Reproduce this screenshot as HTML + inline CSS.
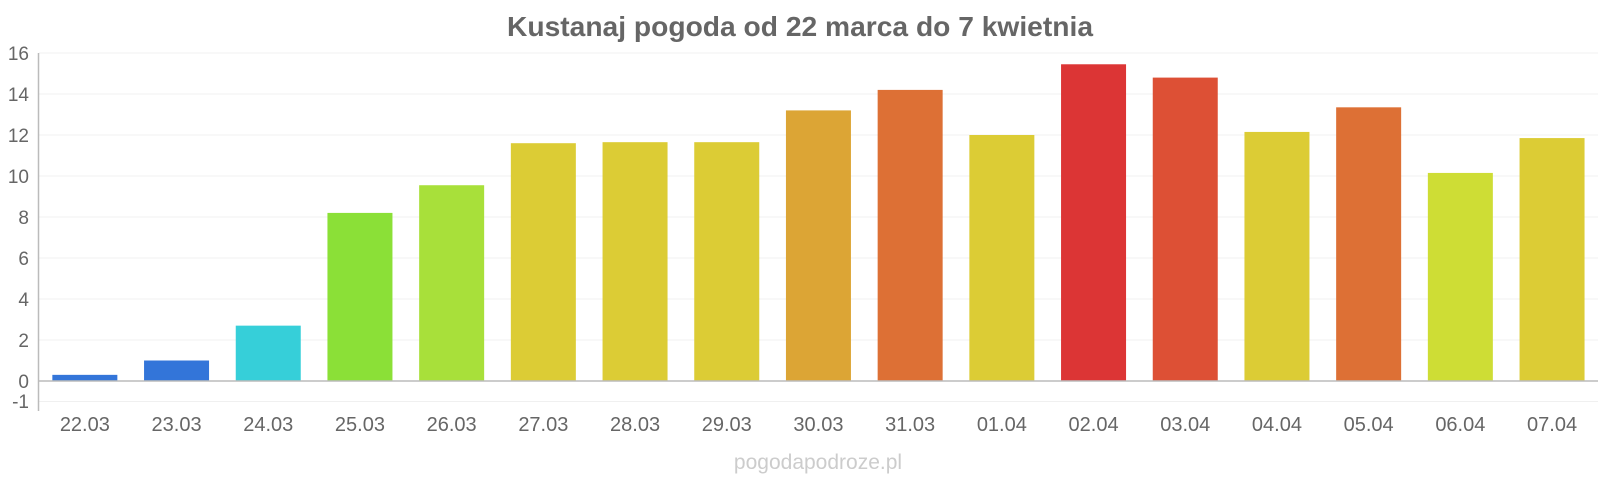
<!DOCTYPE html>
<html><head><meta charset="utf-8"><style>html,body{margin:0;padding:0;background:#fff;}svg{display:block}</style></head>
<body>
<svg width="1600" height="480" xmlns="http://www.w3.org/2000/svg" font-family="Liberation Sans, sans-serif">
<text x="800" y="36" text-anchor="middle" font-size="28" font-weight="bold" fill="#666" textLength="586" lengthAdjust="spacingAndGlyphs">Kustanaj pogoda od 22 marca do 7 kwietnia</text>
<g stroke="#f0f0f0" stroke-width="1">
<line x1="39" x2="1598" y1="53" y2="53"/><line x1="39" x2="1598" y1="94" y2="94"/><line x1="39" x2="1598" y1="135" y2="135"/><line x1="39" x2="1598" y1="176" y2="176"/><line x1="39" x2="1598" y1="217" y2="217"/><line x1="39" x2="1598" y1="258" y2="258"/><line x1="39" x2="1598" y1="299" y2="299"/><line x1="39" x2="1598" y1="340" y2="340"/><line x1="39" x2="1598" y1="401.5" y2="401.5"/>
</g>
<g font-size="19" fill="#666" text-anchor="end">
<text x="29" y="60">16</text><text x="29" y="101">14</text><text x="29" y="142">12</text><text x="29" y="183">10</text><text x="29" y="224">8</text><text x="29" y="265">6</text><text x="29" y="306">4</text><text x="29" y="347">2</text><text x="29" y="388">0</text><text x="29" y="408">-1</text>
</g>
<g id="bars"></g>
<line x1="39" x2="1598" y1="381" y2="381" stroke="#bbb" stroke-width="1.5"/>
<line x1="38.5" x2="38.5" y1="53" y2="411" stroke="#bbb" stroke-width="1.5"/>
<g font-size="20" fill="#666" text-anchor="middle" id="labels"></g>
<text x="818" y="469" text-anchor="middle" font-size="21" fill="#ccc">pogodapodroze.pl</text>
<script>
var v=[0.3,1.0,2.7,8.2,9.55,11.6,11.65,11.65,13.2,14.2,12.0,15.45,14.8,12.15,13.35,10.15,11.85];
var c=["#3375d9","#3375d9","#36cfd9","#8be037","#a8e03a","#dccc35","#dccc35","#dccc35","#dca535","#dd7035","#dccc35","#dc3535","#dd5035","#dccc35","#dd7035","#cedd35","#dccc35"];
var l=["22.03","23.03","24.03","25.03","26.03","27.03","28.03","29.03","30.03","31.03","01.04","02.04","03.04","04.04","05.04","06.04","07.04"];
var ns="http://www.w3.org/2000/svg",b=document.getElementById("bars"),t=document.getElementById("labels");
for(var i=0;i<17;i++){var cx=39+91.7*(i+0.5),h=v[i]*20.5;var r=document.createElementNS(ns,"rect");r.setAttribute("x",cx-32.5);r.setAttribute("width",65);r.setAttribute("y",381-h);r.setAttribute("height",h);r.setAttribute("fill",c[i]);b.appendChild(r);
var x=document.createElementNS(ns,"text");x.setAttribute("x",cx);x.setAttribute("y",431);x.textContent=l[i];t.appendChild(x);}
</script>
</svg>
</body></html>
